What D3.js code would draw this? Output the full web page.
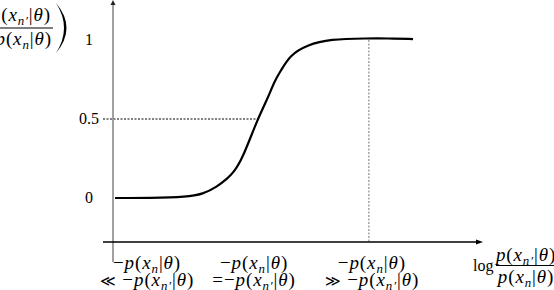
<!DOCTYPE html>
<html>
<head>
<meta charset="utf-8">
<script src="https://cdn.jsdelivr.net/npm/d3@7"></script>
<style>
  body { margin: 0; background: #fff; }
  svg { display: block; }
</style>
</head>
<body>
<svg id="chart" width="554" height="290" font-family="Liberation Serif, DejaVu Serif, serif"></svg>
<script>
// curve: log ratio vs. value
const curveX = [-5, -3.83, -2.58, -2.05, -1.58, -1.21, -1.04, -0.74, -0.23, 0.10, 0.37, 0.54, 0.87, 1.44, 2.21, 3.49, 4.13, 5];
const curveY = [0, 0, 0.006, 0.025, 0.07, 0.127, 0.158, 0.24, 0.494, 0.62, 0.747, 0.797, 0.905, 0.968, 1.006, 1.01, 1.01, 1.006];

const yTicks = [0, 0.5, 1];
const yTickLabels = ["0", "0.5", "1"];

const xTicks = [-5, -0.2, 3.52];
const xTickTop = ["−p(x_{n}|θ)", "−p(x_{n}|θ)", "−p(x_{n}|θ)"];
const xTickBottom = ["≪ −p(x_{n′}|θ)", "=−p(x_{n′}|θ)", "≫ −p(x_{n′}|θ)"];
const xTickShift = [32, -4, 3];

const ratioNum = "p(x_{n′}|θ)";
const ratioDen = "p(x_{n}|θ)";

const FONT = "'Liberation Serif', 'DejaVu Serif', serif";
const svg = d3.select("#chart");

const x = d3.scaleLinear().domain([-5, 5]).range([115, 413]);
const y = d3.scaleLinear().domain([0, 1]).range([198, 40]);
const axisY = 242;

// tiny math typesetter: p, x, θ italic, _{..} subscripts
function mathText(g, str, px, py, anchor, size) {
  const t = g.append("text")
    .attr("x", px).attr("y", py)
    .attr("text-anchor", anchor)
    .style("font-family", FONT)
    .style("font-size", size + "px")
    .style("letter-spacing", "0.9px");
  let i = 0, pending = 0;
  while (i < str.length) {
    if (str[i] === "_" && str[i + 1] === "{") {
      const end = str.indexOf("}", i);
      const sub = str.slice(i + 2, end);
      t.append("tspan").attr("dy", size * 0.22 + pending)
        .style("font-size", (size * 0.68) + "px")
        .style("font-style", "italic")
        .text(sub);
      pending = -size * 0.22;
      i = end + 1;
      continue;
    }
    const ch = str[i];
    const it = "pxθn".indexOf(ch) >= 0;
    const rel = "≪≫".indexOf(ch) >= 0;
    const ts = t.append("tspan").style("font-style", it ? "italic" : "normal").text(ch);
    if (rel) ts.style("font-size", (size * 0.8) + "px").style("font-family", "'DejaVu Serif', serif");
    if (pending) { ts.attr("dy", pending); pending = 0; }
    i++;
  }
  return t;
}

// guide lines
svg.append("line")
  .attr("x1", 103).attr("x2", x(-0.2))
  .attr("y1", y(0.5)).attr("y2", y(0.5))
  .attr("stroke", "#000").attr("stroke-width", 1)
  .attr("stroke-dasharray", "2,1.5");
svg.append("line")
  .attr("x1", x(3.52)).attr("x2", x(3.52))
  .attr("y1", y(1)).attr("y2", axisY)
  .attr("stroke", "#777").attr("stroke-width", 1)
  .attr("stroke-dasharray", "2,1.5");

// axes
svg.append("line")
  .attr("x1", 113).attr("x2", 113)
  .attr("y1", 3).attr("y2", 262)
  .attr("stroke", "#8a8a8a").attr("stroke-width", 1.6);
svg.append("path")
  .attr("d", "M113,0 L110.5,5 L115.5,5 Z")
  .attr("fill", "#222");
svg.append("line")
  .attr("x1", 103).attr("x2", 478)
  .attr("y1", axisY).attr("y2", axisY)
  .attr("stroke", "#000").attr("stroke-width", 1.6);
svg.append("path")
  .attr("d", `M483,${axisY} L476,${axisY - 2.5} L476,${axisY + 2.5} Z`)
  .attr("fill", "#000");

// curve
const line = d3.line()
  .x((d, i) => x(curveX[i]))
  .y((d, i) => y(curveY[i]))
  .curve(d3.curveBasis);
svg.append("path")
  .attr("d", line(curveX))
  .attr("fill", "none")
  .attr("stroke", "#000")
  .attr("stroke-width", 2.2);

// y tick labels
yTicks.forEach((v, i) => {
  svg.append("text")
    .attr("x", 89).attr("y", y(v) + 5)
    .attr("text-anchor", "middle")
    .style("font-family", FONT)
    .style("font-size", "16px")
    .text(yTickLabels[i]);
});

// x tick labels
const tg = svg.append("g");
xTicks.forEach((v, i) => {
  const cx = x(v) + xTickShift[i];
  mathText(tg, xTickTop[i], cx, 269, "middle", 19);
  mathText(tg, xTickBottom[i], cx, 286, "middle", 19);
});

// x axis title
const xt = svg.append("g");
xt.append("text").attr("x", 473).attr("y", 271)
  .style("font-family", FONT).style("font-size", "16px").text("log");
mathText(xt, ratioNum, 526, 261, "middle", 19);
xt.append("line").attr("x1", 496).attr("x2", 556)
  .attr("y1", 265.5).attr("y2", 265.5)
  .attr("stroke", "#000").attr("stroke-width", 1);
mathText(xt, ratioDen, 526, 283, "middle", 19);

// y axis title (clipped at the left edge)
const yt = svg.append("g");
mathText(yt, ratioNum, 51, 21, "end", 19);
yt.append("line").attr("x1", -40).attr("x2", 53)
  .attr("y1", 28).attr("y2", 28)
  .attr("stroke", "#000").attr("stroke-width", 1);
mathText(yt, ratioDen, 52, 45, "end", 19);
yt.append("path")
  .attr("d", "M56,3 Q77,28 56,53 Q72,28 56,3 Z")
  .attr("fill", "#000");
</script>
</body>
</html>
